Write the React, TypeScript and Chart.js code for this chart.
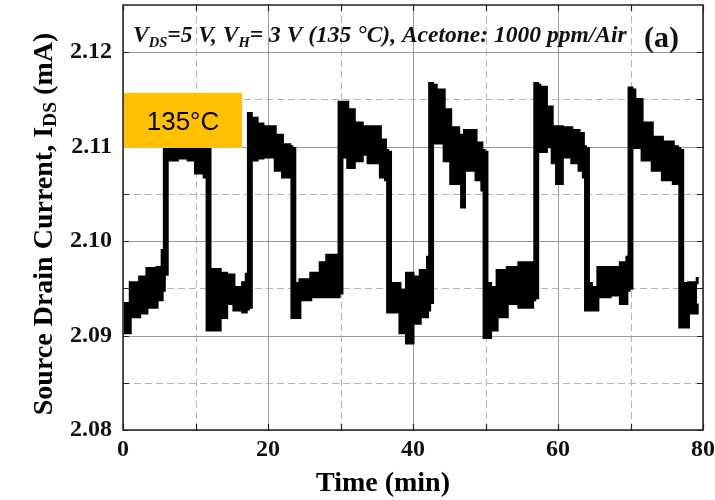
import React, { useEffect, useRef } from "react";
import { Chart, registerables } from "chart.js";

Chart.register(...registerables);

// Time (min)
const times = [
  0.1, 1.0, 2.3, 3.3, 4.7, 5.4, 5.7, 6.1, 7.5, 9.0, 10.0, 11.2, 11.6, 12.0,
  13.4, 14.3, 15.3, 16.5, 17.0, 17.3, 17.7, 18.5, 19.3, 21.0, 22.0, 23.0, 23.3, 23.7,
  24.4, 25.9, 27.2, 28.1, 29.5, 29.8, 30.2, 31.0, 31.9, 33.0, 33.8, 35.5, 36.2, 36.5, 36.9,
  38.2, 39.1, 40.0, 41.0, 42.0, 42.3, 42.7, 43.2, 44.3, 45.2, 46.3, 46.7, 47.1, 48.7, 49.5, 49.8, 50.2,
  50.7, 51.6, 53.0, 54.6, 56.5, 56.8, 57.2, 57.5, 58.4, 59.2, 59.8, 60.6, 61.9, 62.9, 63.5, 63.8, 64.2,
  64.6, 65.5, 67.2, 68.6, 69.5, 69.8, 70.2, 70.6, 71.6, 73.0, 74.4, 75.9, 76.5, 76.8, 77.2,
  78.0, 79.2,
];
// upper edge of the noisy current trace (mA)
const upperIds = [
  2.0934, 2.0956, 2.0962, 2.0971, 2.0972, 2.0990, 2.1125, 2.1125, 2.1120, 2.1115, 2.1110, 2.1108, 2.1106, 2.0970,
  2.0966, 2.0964, 2.0951, 2.0956, 2.0965, 2.1135, 2.1130, 2.1124, 2.1121, 2.1112, 2.1102, 2.1100, 2.1098, 2.0955,
  2.0959, 2.0966, 2.0977, 2.0985, 2.0985, 2.1147, 2.1147, 2.1139, 2.1125, 2.1121, 2.1121, 2.1107, 2.1096, 2.1094, 2.0955,
  2.0948, 2.0966, 2.0962, 2.0969, 2.0983, 2.1167, 2.1165, 2.1160, 2.1139, 2.1120, 2.1110, 2.1112, 2.1117, 2.1104, 2.1096, 2.1094, 2.0955,
  2.0951, 2.0969, 2.0972, 2.0977, 2.0972, 2.1167, 2.1165, 2.1163, 2.1142, 2.1121, 2.1121, 2.1120, 2.1117, 2.1114, 2.1100, 2.1098, 2.0955,
  2.0951, 2.0972, 2.0972, 2.0977, 2.0983, 2.1162, 2.1160, 2.1150, 2.1125, 2.1110, 2.1105, 2.1100, 2.1098, 2.1096, 2.0955,
  2.0956, 2.0962,
];
// lower edge of the noisy current trace (mA)
const lowerIds = [
  2.0903, 2.0920, 2.0924, 2.0930, 2.0938, 2.0948, 2.0965, 2.1086, 2.1088, 2.1086, 2.1072, 2.1068, 2.0906, 2.0906,
  2.0919, 2.0934, 2.0927, 2.0925, 2.0928, 2.0930, 2.1086, 2.1088, 2.1089, 2.1075, 2.1068, 2.1072, 2.0919, 2.0919,
  2.0938, 2.0941, 2.0941, 2.0941, 2.0941, 2.0945, 2.1089, 2.1078, 2.1085, 2.1092, 2.1083, 2.1068, 2.1065, 2.0925, 2.0925,
  2.0903, 2.0892, 2.0913, 2.0920, 2.0927, 2.0935, 2.1104, 2.1104, 2.1085, 2.1061, 2.1075, 2.1036, 2.1075, 2.1065, 2.1054, 2.0898, 2.0898,
  2.0906, 2.0920, 2.0934, 2.0930, 2.0938, 2.0940, 2.1096, 2.1095, 2.1100, 2.1083, 2.1061, 2.1089, 2.1083, 2.1075, 2.1068, 2.0927, 2.0927,
  2.0927, 2.0941, 2.0943, 2.0934, 2.0948, 2.0950, 2.1099, 2.1099, 2.1086, 2.1075, 2.1065, 2.1061, 2.1062, 2.0909, 2.0909,
  2.0924, 2.0934,
];

const xMajor = [0, 20, 40, 60, 80];
const xMinor = [10, 30, 50, 70];
const yMajor = [2.08, 2.09, 2.10, 2.11, 2.12];
const yMinor = [2.085, 2.095, 2.105, 2.115];

const SERIF = "'Liberation Serif', 'Times New Roman', serif";

const customPlugin = {
  id: "custom",
  beforeDatasetsDraw(chart: any) {
    const { ctx, chartArea: a, scales } = chart;
    const xs = scales.x, ys = scales.y;
    ctx.save();
    ctx.lineWidth = 1;
    ctx.strokeStyle = "#b4b4b4";
    ctx.setLineDash([7, 4]);
    xMinor.forEach((v) => {
      const px = Math.round(xs.getPixelForValue(v)) + 0.5;
      ctx.beginPath(); ctx.moveTo(px, a.top); ctx.lineTo(px, a.bottom); ctx.stroke();
    });
    yMinor.forEach((v) => {
      const py = Math.round(ys.getPixelForValue(v)) + 0.5;
      ctx.beginPath(); ctx.moveTo(a.left, py); ctx.lineTo(a.right, py); ctx.stroke();
    });
    ctx.setLineDash([]);
    ctx.strokeStyle = "#9a9a9a";
    xMajor.forEach((v) => {
      const px = Math.round(xs.getPixelForValue(v)) + 0.5;
      ctx.beginPath(); ctx.moveTo(px, a.top); ctx.lineTo(px, a.bottom); ctx.stroke();
    });
    yMajor.forEach((v) => {
      const py = Math.round(ys.getPixelForValue(v)) + 0.5;
      ctx.beginPath(); ctx.moveTo(a.left, py); ctx.lineTo(a.right, py); ctx.stroke();
    });
    ctx.restore();
  },
  afterDatasetsDraw(chart: any) {
    const { ctx, chartArea: a, scales } = chart;
    const xs = scales.x, ys = scales.y;
    ctx.save();
    ctx.strokeStyle = "#222";
    ctx.lineWidth = 1.5;
    ctx.strokeRect(a.left, a.top, a.right - a.left, a.bottom - a.top);
    ctx.lineWidth = 1.2;
    const tl = 6;
    [...xMajor, ...xMinor].forEach((v) => {
      const px = Math.round(xs.getPixelForValue(v)) + 0.5;
      ctx.beginPath();
      ctx.moveTo(px, a.bottom); ctx.lineTo(px, a.bottom - tl);
      ctx.moveTo(px, a.top); ctx.lineTo(px, a.top + tl);
      ctx.stroke();
    });
    [...yMajor, ...yMinor].forEach((v) => {
      const py = Math.round(ys.getPixelForValue(v)) + 0.5;
      ctx.beginPath();
      ctx.moveTo(a.left, py); ctx.lineTo(a.left + tl, py);
      ctx.moveTo(a.right, py); ctx.lineTo(a.right - tl, py);
      ctx.stroke();
    });

    // title inside plot
    ctx.fillStyle = "#111";
    ctx.textBaseline = "alphabetic";
    ctx.textAlign = "left";
    const parts: [string, boolean][] = [
      ["V", false], ["DS", true], ["=5 V, V", false], ["H", true],
      ["= 3 V (135 \u00B0C), Acetone: 1000 ppm/Air", false],
    ];
    const base = 19;
    const measure = (size: number) => {
      let w = 0;
      parts.forEach(([t, sub]) => {
        ctx.font = `italic bold ${sub ? size * 0.62 : size}px ${SERIF}`;
        w += ctx.measureText(t).width;
      });
      return w;
    };
    const size = base * (494 / measure(base));
    let x = a.left + 10;
    const by = 42;
    parts.forEach(([t, sub]) => {
      ctx.font = `italic bold ${sub ? size * 0.62 : size}px ${SERIF}`;
      ctx.fillText(t, x, sub ? by + 5 : by);
      x += ctx.measureText(t).width;
    });
    ctx.font = `bold 30px ${SERIF}`;
    ctx.fillText("(a)", 644, 47);

    // orange label
    ctx.fillStyle = "#FFC000";
    ctx.fillRect(124, 93, 118, 55);
    ctx.fillStyle = "#000";
    ctx.font = `26px 'Liberation Sans', Arial, sans-serif`;
    ctx.textAlign = "center";
    ctx.fillText("135\u00B0C", 183, 130);

    // x title
    ctx.font = `bold 28px ${SERIF}`;
    ctx.fillText("Time (min)", 383, 491);

    // y title with subscript
    ctx.translate(45, 224);
    ctx.rotate(-Math.PI / 2);
    const yParts: [string, boolean][] = [
      ["Source Drain Current, I", false], ["DS", true], [" (mA)", false],
    ];
    const ysz = 28;
    let tw = 0;
    yParts.forEach(([t, sub]) => {
      ctx.font = `bold ${sub ? ysz * 0.7 : ysz}px ${SERIF}`;
      tw += ctx.measureText(t).width;
    });
    let cx = -tw / 2;
    ctx.textAlign = "left";
    ctx.textBaseline = "middle";
    yParts.forEach(([t, sub]) => {
      ctx.font = `bold ${sub ? ysz * 0.7 : ysz}px ${SERIF}`;
      ctx.fillText(t, cx, sub ? 6 : 0);
      cx += ctx.measureText(t).width;
    });
    ctx.restore();
  },
};

export default function App() {
  const ref = useRef<HTMLCanvasElement | null>(null);
  useEffect(() => {
    if (!ref.current) return;
    const upper = times.map((t, i) => ({ x: t, y: upperIds[i] }));
    const lower = times.map((t, i) => ({ x: t, y: lowerIds[i] }));
    const chart = new Chart(ref.current, {
      type: "line",
      data: {
        datasets: [
          {
            label: "upper",
            data: upper,
            borderColor: "#000",
            borderWidth: 3,
            pointRadius: 0,
            fill: false,
            stepped: true,
          },
          {
            label: "lower",
            data: lower,
            borderColor: "#000",
            borderWidth: 3,
            pointRadius: 0,
            backgroundColor: "#000",
            fill: "-1",
            stepped: true,
          },
        ],
      },
      options: {
        animation: false,
        responsive: true,
        maintainAspectRatio: false,
        layout: { padding: { left: 0, top: 5, right: 12, bottom: 0 } },
        plugins: { legend: { display: false }, tooltip: { enabled: false }, title: { display: false } },
        scales: {
          x: {
            type: "linear",
            min: 0,
            max: 80,
            grid: { display: false, drawTicks: false },
            border: { display: false },
            afterBuildTicks: (s: any) => { s.ticks = xMajor.map((v) => ({ value: v })); },
            afterFit: (s: any) => { s.height = 70; s.paddingLeft = 0; s.paddingRight = 0; },
            ticks: {
              color: "#111",
              padding: 5,
              maxRotation: 0,
              font: { family: SERIF, size: 24, weight: "bold" },
              callback: (v: any) => String(v),
            },
          },
          y: {
            type: "linear",
            min: 2.08,
            max: 2.125,
            grid: { display: false, drawTicks: false },
            border: { display: false },
            afterBuildTicks: (s: any) => { s.ticks = yMajor.map((v) => ({ value: v })); },
            afterFit: (s: any) => { s.width = 123; s.paddingTop = 0; s.paddingBottom = 0; },
            ticks: {
              color: "#111",
              padding: 11,
              font: { family: SERIF, size: 24, weight: "bold" },
              callback: (v: any) => Number(v).toFixed(2),
            },
          },
        },
      },
      plugins: [customPlugin],
    });
    return () => chart.destroy();
  }, []);
  return (
    <div style={{ position: "absolute", left: 0, top: 0, width: 715, height: 500, background: "#fff" }}>
      <canvas ref={ref} />
    </div>
  );
}
